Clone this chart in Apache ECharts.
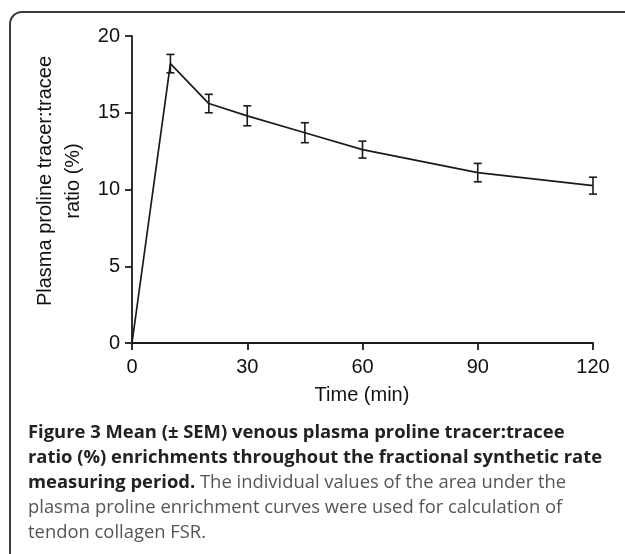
<!DOCTYPE html>
<html><head><meta charset="utf-8">
<script src="https://cdn.jsdelivr.net/npm/echarts@6/dist/echarts.min.js"></script>
<style>html,body{margin:0;padding:0;background:#fff}#c{width:625px;height:554px}</style>
</head><body><div id="c"></div>
<script>
const times = [0, 10, 20, 30, 45, 60, 90, 120];
const means = [0, 18.2, 15.6, 14.8, 13.7, 12.6, 11.1, 10.25];
const sems  = [0, 0.6, 0.6, 0.65, 0.65, 0.55, 0.6, 0.55];
const xTicks = [0, 30, 60, 90, 120];
const yTicks = [0, 5, 10, 15, 20];
const yTitle = ['Plasma proline tracer:tracee', 'ratio (%)'];
const xTitle = 'Time (min)';
const captionBold1 = 'Figure 3 Mean (\u00b1 SEM) venous plasma proline tracer:tracee';
const captionBold2 = 'ratio (%) enrichments throughout the fractional synthetic rate';
const captionBold3 = 'measuring period.';
const captionReg3 = ' The individual values of the area under the';
const captionReg4 = 'plasma proline enrichment curves were used for calculation of';
const captionReg5 = 'tendon collagen FSR.';

const lineData = times.map((t, i) => [t, means[i]]);
const errData = times.map((t, i) => [t, means[i] - sems[i], means[i] + sems[i]]).filter(d => d[2] > d[1]);

const chart = echarts.init(document.getElementById('c'), null, {renderer: 'canvas'});
const axisFont = 'Liberation Sans, Arial, sans-serif';
const capFont = 'Open Sans, Noto Sans, sans-serif';
chart.setOption({
  animation: false,
  grid: {left: 132, right: 32, top: 36, bottom: 211, containLabel: false},
  xAxis: {
    type: 'value', min: 0, max: 120, interval: 30,
    axisLine: {lineStyle: {color: '#1a1a1a', width: 1.8}},
    axisTick: {show: true, length: 7, lineStyle: {color: '#1a1a1a', width: 1.8}},
    axisLabel: {color: '#111', fontSize: 20, fontFamily: axisFont, margin: 14,
      formatter: v => xTicks.includes(v) ? String(v) : ''},
    splitLine: {show: false}
  },
  yAxis: {
    type: 'value', min: 0, max: 20, interval: 5,
    axisLine: {show: true, lineStyle: {color: '#1a1a1a', width: 1.8}},
    axisTick: {show: true, length: 7, lineStyle: {color: '#1a1a1a', width: 1.8}},
    axisLabel: {color: '#111', fontSize: 20, fontFamily: axisFont, margin: 12,
      formatter: v => yTicks.includes(v) ? String(v) : ''},
    splitLine: {show: false}
  },
  series: [
    {
      type: 'line', data: lineData, symbol: 'none',
      lineStyle: {color: '#1a1a1a', width: 1.7}, z: 2
    },
    {
      type: 'custom', data: errData, z: 3,
      renderItem: function (params, api) {
        const x = api.value(0);
        const lo = api.coord([x, api.value(1)]);
        const hi = api.coord([x, api.value(2)]);
        const w = 4;
        const st = {stroke: '#1a1a1a', lineWidth: 1.6, fill: null};
        return {type: 'group', children: [
          {type: 'line', shape: {x1: lo[0], y1: lo[1], x2: hi[0], y2: hi[1]}, style: st},
          {type: 'line', shape: {x1: lo[0]-w, y1: lo[1], x2: lo[0]+w, y2: lo[1]}, style: st},
          {type: 'line', shape: {x1: hi[0]-w, y1: hi[1], x2: hi[0]+w, y2: hi[1]}, style: st}
        ]};
      }
    }
  ],
  graphic: [
    {type: 'rect', shape: {x: 10, y: 12, width: 660, height: 600, r: 12},
     style: {fill: null, stroke: '#3a3a3a', lineWidth: 2}, z: 0},
    {type: 'text', x: 59, y: 181, rotation: Math.PI / 2,
     style: {text: yTitle.join('\n'), font: '20px ' + axisFont, fill: '#111',
       align: 'center', verticalAlign: 'middle', lineHeight: 28}},
    {type: 'text', x: 362, y: 395,
     style: {text: xTitle, font: '20px ' + axisFont, fill: '#111', align: 'center', verticalAlign: 'middle'}},
    {type: 'text', x: 28, y: 420,
     style: {
       text: '{b|' + captionBold1 + '}\n{b|' + captionBold2 + '}\n{b|' + captionBold3 + '}{r|' + captionReg3 + '}\n{r|' + captionReg4 + '}\n{r|' + captionReg5 + '}',
       rich: {
         b: {fontFamily: capFont, fontSize: 18.4, fontWeight: 'bold', fill: '#222', lineHeight: 25},
         r: {fontFamily: capFont, fontSize: 18.4, fontWeight: 'normal', fill: '#555', lineHeight: 25}
       },
       align: 'left', verticalAlign: 'top'
     }}
  ]
});
</script></body></html>
